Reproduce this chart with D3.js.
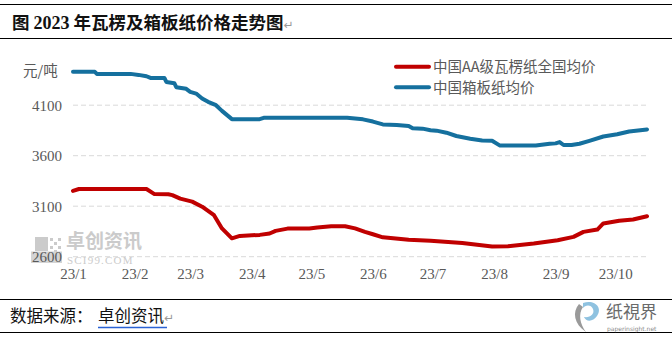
<!DOCTYPE html>
<html>
<head>
<meta charset="utf-8">
<script src="https://cdn.jsdelivr.net/npm/d3@7"></script>
<style>
  html, body { margin: 0; padding: 0; background: #fff; }
  svg { display: block; }
</style>
</head>
<body>
<svg id="chart" width="672" height="337"></svg>
<script>
// Series: weekly-ish price readings, yuan per tonne
const boardDates = ["2023-01-01","2023-01-12","2023-01-13","2023-01-30","2023-02-03","2023-02-07","2023-02-09","2023-02-16","2023-02-17","2023-02-21","2023-02-22","2023-02-27","2023-03-01","2023-03-04","2023-03-07","2023-03-10","2023-03-14","2023-03-17","2023-03-22","2023-04-05","2023-04-07","2023-05-19","2023-05-27","2023-06-01","2023-06-06","2023-06-13","2023-06-19","2023-06-21","2023-06-26","2023-06-30","2023-07-03","2023-07-08","2023-07-13","2023-07-20","2023-07-26","2023-07-31","2023-08-04","2023-08-22","2023-08-29","2023-09-01","2023-09-03","2023-09-05","2023-09-09","2023-09-13","2023-09-18","2023-09-25","2023-10-02","2023-10-08","2023-10-17"];
const boardValues = [4430,4430,4410,4410,4400,4387,4370,4370,4330,4318,4278,4262,4232,4215,4166,4133,4100,4044,3962,3962,3975,3975,3960,3938,3910,3905,3895,3872,3868,3852,3848,3828,3795,3768,3750,3748,3700,3700,3718,3722,3735,3706,3706,3718,3747,3790,3812,3840,3860];

const corrugatedDates = ["2023-01-01","2023-01-04","2023-02-07","2023-02-11","2023-02-18","2023-02-20","2023-02-24","2023-03-02","2023-03-07","2023-03-13","2023-03-17","2023-03-22","2023-03-26","2023-04-05","2023-04-10","2023-04-13","2023-04-19","2023-04-30","2023-05-04","2023-05-11","2023-05-18","2023-05-23","2023-05-28","2023-06-01","2023-06-06","2023-06-19","2023-06-30","2023-07-16","2023-07-31","2023-08-08","2023-08-21","2023-09-02","2023-09-10","2023-09-15","2023-09-22","2023-09-25","2023-10-03","2023-10-10","2023-10-17"];
const corrugatedValues = [3252,3270,3270,3220,3218,3210,3175,3145,3095,3011,2880,2782,2806,2816,2830,2856,2878,2880,2890,2902,2902,2880,2846,2822,2792,2768,2758,2735,2700,2703,2730,2763,2796,2846,2869,2929,2955,2968,3000];

const yTicks = [2600, 3100, 3600, 4100];
const monthTicks = ["2023-01-01","2023-02-01","2023-03-01","2023-04-01","2023-05-01","2023-06-01","2023-07-01","2023-08-01","2023-09-01","2023-10-01"];
const seriesNames = ["中国AA级瓦楞纸全国均价", "中国箱板纸均价"];
const seriesColors = ["#C00000", "#15709E"];

const parse = d3.timeParse("%Y-%m-%d");
const svg = d3.select("#chart");
const serifFont = "'Liberation Serif','DejaVu Serif',serif";
const cjkFont = "'Noto Sans CJK SC','Noto Sans',sans-serif";

// Title band
svg.append("line").attr("x1", 0).attr("x2", 672).attr("y1", 4.5).attr("y2", 4.5)
  .attr("stroke", "#000").attr("stroke-width", 1.2);
svg.append("line").attr("x1", 0).attr("x2", 672).attr("y1", 38.5).attr("y2", 38.5)
  .attr("stroke", "#000").attr("stroke-width", 1.2);
const title = svg.append("text").attr("x", 12).attr("y", 28.5)
  .attr("font-family", cjkFont).attr("font-size", 17.5).attr("font-weight", 700).attr("fill", "#111");
title.append("tspan").text("图 ");
title.append("tspan").attr("font-family", serifFont).attr("font-size", 18).text("2023");
title.append("tspan").text(" 年瓦楞及箱板纸价格走势图");
title.append("tspan").attr("font-family", "'DejaVu Sans',sans-serif").attr("font-weight", 400)
  .attr("font-size", 12).attr("fill", "#9a9a9a").text("↵");

// Scales
const x = d3.scaleTime().domain([parse("2023-01-01"), parse("2023-10-17")]).range([73, 647]);
const y = d3.scaleLinear().domain([2600, 4600]).range([256.7, 54.7]);

// Watermark
const wm = svg.append("g").attr("fill", "#cbcbcb");
wm.append("rect").attr("x", 35).attr("y", 237).attr("width", 13).attr("height", 14);
[[50,238],[54,242],[50,246],[54,250],[58,238],[58,246]].forEach(p =>
  wm.append("rect").attr("x", p[0]).attr("y", p[1]).attr("width", 3).attr("height", 3));
wm.append("rect").attr("x", 31).attr("y", 251.5).attr("width", 31).attr("height", 11.5).attr("fill", "#d4d4d4");
wm.append("text").attr("x", 66).attr("y", 248).attr("font-family", cjkFont)
  .attr("font-size", 19).attr("font-weight", 700).text("卓创资讯");
wm.append("text").attr("x", 67).attr("y", 264).attr("font-family", serifFont)
  .attr("font-size", 11).attr("letter-spacing", 1.2).text("SCI99.COM");

// Grid lines
svg.append("g").selectAll("line").data(yTicks).join("line")
  .attr("x1", 73).attr("x2", 647)
  .attr("y1", d => y(d)).attr("y2", d => y(d))
  .attr("stroke", "#d9d9d9").attr("stroke-width", 1).attr("stroke-dasharray", "5,3");

// Y axis labels
const yAxis = svg.append("g").attr("transform", "translate(62,0)")
  .call(d3.axisLeft(y).tickValues(yTicks).tickSize(0).tickPadding(0).tickFormat(d3.format("d")));
yAxis.select(".domain").remove();
yAxis.selectAll("text").attr("font-family", serifFont).attr("font-size", 15).attr("fill", "#595959");
svg.append("text").attr("x", 23).attr("y", 76).attr("font-family", cjkFont)
  .attr("font-size", 14.5).attr("fill", "#595959").text("元/吨");

// X axis labels
const xAxis = svg.append("g").attr("transform", "translate(0,263)")
  .call(d3.axisBottom(x).tickValues(monthTicks.map(parse)).tickSize(0).tickPadding(5)
    .tickFormat(d => "23/" + (d.getMonth() + 1)));
xAxis.select(".domain").remove();
xAxis.selectAll("text").attr("font-family", serifFont).attr("font-size", 15).attr("fill", "#595959");

// Lines
const line = d3.line().x(d => x(d[0])).y(d => y(d[1]));
const series = [
  corrugatedDates.map((d, i) => [parse(d), corrugatedValues[i]]),
  boardDates.map((d, i) => [parse(d), boardValues[i]])
];
svg.append("g").selectAll("path").data(series).join("path")
  .attr("d", line).attr("fill", "none")
  .attr("stroke", (d, i) => seriesColors[i]).attr("stroke-width", 4)
  .attr("stroke-linejoin", "round").attr("stroke-linecap", "round");

// Legend
const legend = svg.append("g").selectAll("g").data(seriesNames).join("g")
  .attr("transform", (d, i) => `translate(0,${66.7 + i * 20.6})`);
legend.append("line").attr("x1", 396).attr("x2", 429).attr("y1", 0).attr("y2", 0)
  .attr("stroke", (d, i) => seriesColors[i]).attr("stroke-width", 4).attr("stroke-linecap", "round");
legend.append("text").attr("x", 433).attr("y", 5.5).attr("font-family", cjkFont)
  .attr("font-size", 14.5).attr("fill", "#595959").text(d => d);

// Source band
svg.append("line").attr("x1", 0).attr("x2", 672).attr("y1", 299.5).attr("y2", 299.5)
  .attr("stroke", "#000").attr("stroke-width", 1.2);
svg.append("line").attr("x1", 0).attr("x2", 672).attr("y1", 332.5).attr("y2", 332.5)
  .attr("stroke", "#000").attr("stroke-width", 1.2);
const src = svg.append("text").attr("x", 10).attr("y", 322).attr("font-family", cjkFont)
  .attr("font-size", 16.5).attr("fill", "#111");
src.append("tspan").text("数据来源：");
src.append("tspan").attr("x", 98).text("卓创资讯");
src.append("tspan").attr("font-family", "'DejaVu Sans',sans-serif").attr("font-size", 12)
  .attr("fill", "#9a9a9a").text("↵");
svg.append("line").attr("x1", 98).attr("x2", 167).attr("y1", 327.5).attr("y2", 327.5)
  .attr("stroke", "#2a62d4").attr("stroke-width", 1.3);

// Brand mark at bottom right
const logo = svg.append("g");
logo.append("path")
  .attr("d", "M579,304 C572,312 574,324 586,332 C580,324 578,314 583,307 Z")
  .attr("fill", "#9a9a9a");
logo.append("path")
  .attr("d", "M583,303 C595,299 603,308 597,316 C593,322 586,322 584,317 C590,318 595,314 593,309 C591,304 585,305 583,308 Z")
  .attr("fill", "#8fc2e0");
logo.append("text").attr("x", 606).attr("y", 318).attr("font-family", cjkFont)
  .attr("font-size", 17).attr("fill", "#6a6a6a").text("纸視界");
logo.append("text").attr("x", 607).attr("y", 331).attr("font-family", "'DejaVu Sans',sans-serif")
  .attr("font-size", 6).attr("fill", "#8a8a8a").text("paperinsight.net");
</script>
</body>
</html>
